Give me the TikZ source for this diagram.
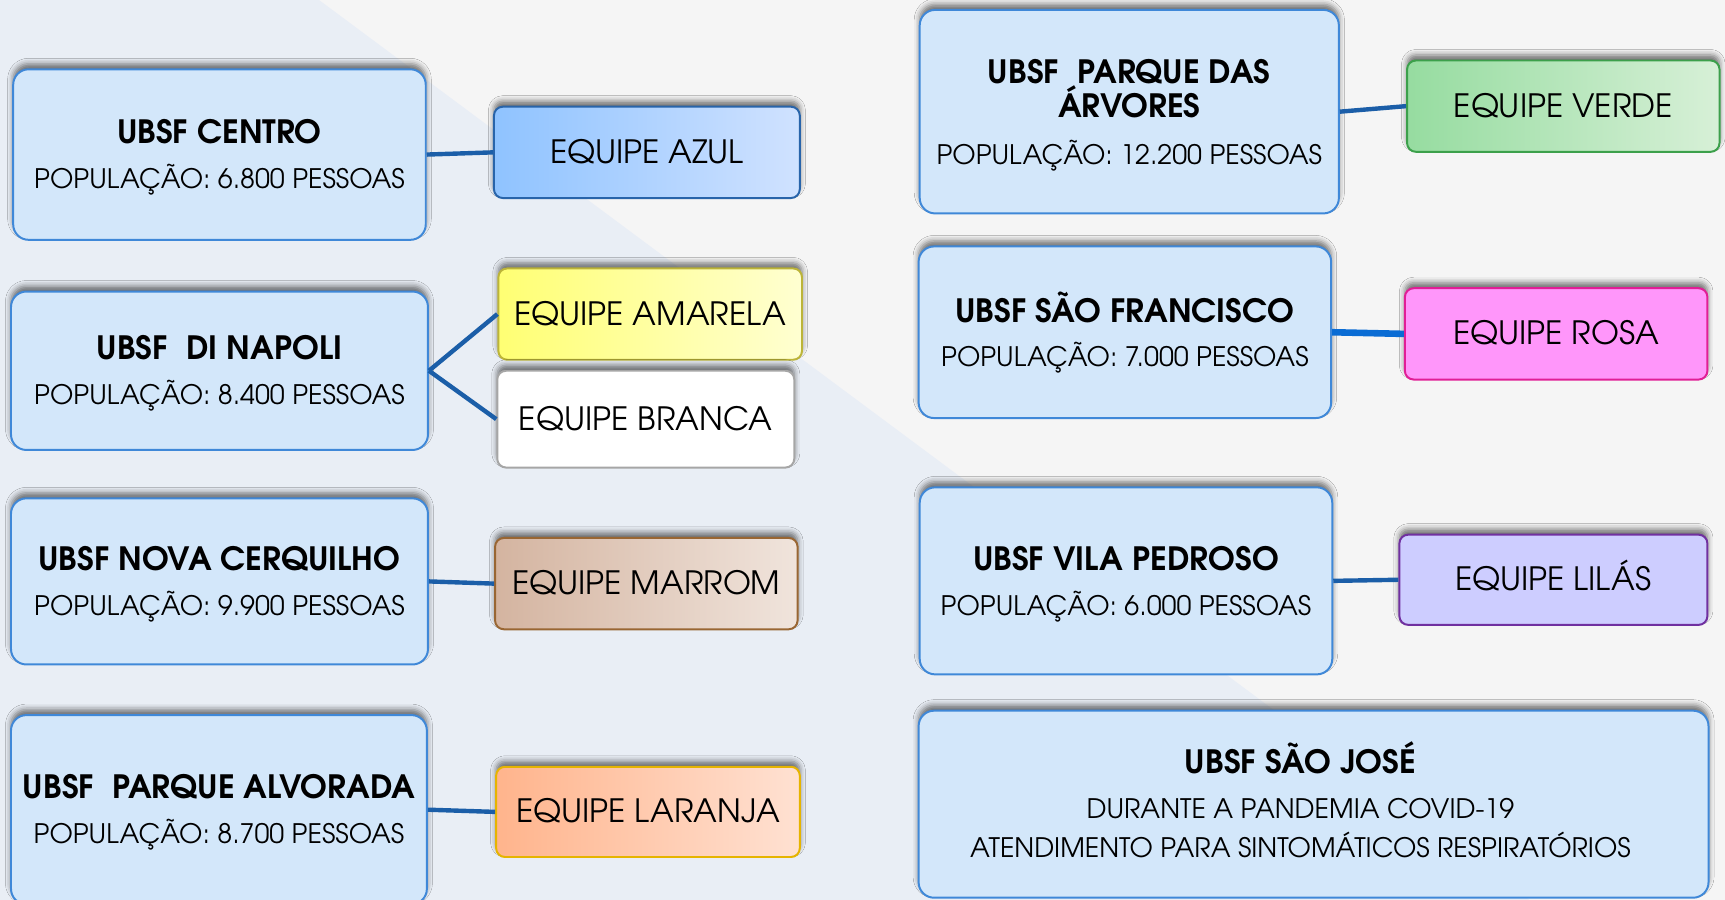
\documentclass[tikz,border=0pt]{standalone}
\usepackage{fontspec}
\setmainfont{TeX Gyre Adventor}
\usetikzlibrary{shadows.blur}
\definecolor{bgR}{HTML}{F5F5F5}
\definecolor{bgL}{HTML}{E9EEF5}
\definecolor{ubsfill}{HTML}{D3E7FA}
\definecolor{ubsline}{HTML}{3F88D8}
\definecolor{linkblue}{HTML}{1B5EA8}
\definecolor{rosalink}{HTML}{0A6CD4}
\begin{document}
\begin{tikzpicture}[x=0.5pt,y=-0.5pt,
  shad/.style={blur shadow={shadow xshift=0pt,shadow yshift=2.5pt,shadow blur radius=2.5pt,shadow opacity=55}},
  ubsf/.style={draw=ubsline,line width=0.9pt,fill=ubsfill,rounded corners=7pt,inner sep=0pt,shad},
  team/.style={rounded corners=4pt,line width=0.9pt,inner sep=0pt,shad,
    font=\fontsize{14.6}{16}\selectfont,text height=0.74em,text depth=0pt},
  teamtext/.style={inner sep=0pt,yshift=-1.3pt,font=\fontsize{14.6}{16}\selectfont,text height=0.74em,text depth=0pt},
  ttl/.style={font=\bfseries\fontsize{14.6}{16}\selectfont,inner sep=0pt,yshift=-1.3pt,text height=0.74em,text depth=0pt},
  pop/.style={font=\fontsize{12.2}{14}\selectfont,inner sep=0pt,yshift=-1.2pt,text height=0.74em,text depth=0pt},
  link/.style={draw=linkblue,line width=2pt}]
\useasboundingbox (0,0) rectangle (1568,818);
\clip (0,0) rectangle (1568,818);
\fill[bgR] (0,0) rectangle (1568,818);
\fill[bgL] (0,0) -- (290,0) -- (1390,818) -- (0,818) -- cycle;

% left column
\node[ubsf,minimum width=187.5pt,minimum height=77.5pt] (centro) at (199.5,140.5) {};
\node[ttl] (centroT) at (199.5,120) {UBSF CENTRO};
\node[pop] (centroP) at (199.5,162) {POPULAÇÃO: 6.800 PESSOAS};
\node[team,draw={rgb,255:red,40;green,100;blue,170},left color={rgb,255:red,143;green,195;blue,255},right color={rgb,255:red,208;green,226;blue,255},minimum width=139pt,minimum height=41.5pt] (azul) at (588,138.5) {};
\node[teamtext] (azulT) at (azul) {EQUIPE AZUL};

\node[ubsf,minimum width=189.5pt,minimum height=72pt] (napoli) at (199.5,337) {};
\node[ttl] (napoliT) at (199.5,317) {UBSF\ \ DI NAPOLI};
\node[pop] (napoliP) at (199.5,358) {POPULAÇÃO: 8.400 PESSOAS};
\node[team,draw=yellow!70!black,left color=yellow!55,right color=yellow!18,minimum width=138pt,minimum height=41.5pt] (amarela) at (591,285.5) {};
\node[teamtext] (amarelaT) at (amarela) {EQUIPE AMARELA};
\node[team,draw=gray!70,fill=white,minimum width=135pt,minimum height=44pt] (branca) at (587,381) {};
\node[teamtext] (brancaT) at (branca) {EQUIPE BRANCA};

\node[ubsf,minimum width=189.5pt,minimum height=75.5pt] (nova) at (199.5,528.5) {};
\node[ttl] (novaT) at (199.5,509) {UBSF NOVA CERQUILHO};
\node[pop] (novaP) at (199.5,550) {POPULAÇÃO: 9.900 PESSOAS};
\node[team,draw=brown!80!black,left color={rgb,255:red,212;green,180;blue,160},right color={rgb,255:red,240;green,228;blue,220},minimum width=137.5pt,minimum height=41.5pt] (marrom) at (587.5,530.5) {};
\node[teamtext] (marromT) at (marrom) {EQUIPE MARROM};

\node[ubsf,minimum width=189pt,minimum height=86pt] (alvorada) at (199,736) {};
\node[ttl] (alvoradaT) at (199,716) {UBSF\ \ PARQUE ALVORADA};
\node[pop] (alvoradaP) at (199,757) {POPULAÇÃO: 8.700 PESSOAS};
\node[team,draw={rgb,255:red,230;green,180;blue,0},left color={rgb,255:red,255;green,180;blue,140},right color={rgb,255:red,255;green,225;blue,210},minimum width=138pt,minimum height=41pt] (laranja) at (589,738) {};
\node[teamtext] (laranjaT) at (laranja) {EQUIPE LARANJA};

% right column
\node[ubsf,minimum width=190.5pt,minimum height=92.5pt] (arvores) at (1026.5,101.5) {};
\node[ttl] (arvoresT1) at (1026.5,66) {UBSF\ \ PARQUE DAS};
\node[ttl] (arvoresT2) at (1026.5,97) {ÁRVORES};
\node[pop] (arvoresP) at (1026.5,140) {POPULAÇÃO: 12.200 PESSOAS};
\node[team,draw={rgb,255:red,60;green,160;blue,75},left color={rgb,255:red,150;green,220;blue,160},right color={rgb,255:red,215;green,240;blue,215},minimum width=142pt,minimum height=41.5pt] (verde) at (1421,96.5) {};
\node[teamtext] (verdeT) at (verde) {EQUIPE VERDE};

\node[ubsf,minimum width=187.5pt,minimum height=78pt] (francisco) at (1022.5,302) {};
\node[ttl] (franciscoT) at (1022.5,283) {UBSF SÃO FRANCISCO};
\node[pop] (franciscoP) at (1022.5,323) {POPULAÇÃO: 7.000 PESSOAS};
\node[team,draw={rgb,255:red,225;green,30;blue,150},fill={rgb,255:red,255;green,150;blue,250},minimum width=137.5pt,minimum height=41.5pt] (rosa) at (1414.5,303.5) {};
\node[teamtext] (rosaT) at (rosa) {EQUIPE ROSA};

\node[ubsf,minimum width=187.5pt,minimum height=85pt] (vila) at (1023.5,528) {};
\node[ttl] (vilaT) at (1023.5,509) {UBSF VILA PEDROSO};
\node[pop] (vilaP) at (1023.5,550) {POPULAÇÃO: 6.000 PESSOAS};
\node[team,draw={rgb,255:red,112;green,48;blue,160},fill={rgb,255:red,205;green,205;blue,255},minimum width=140pt,minimum height=41pt] (lilas) at (1412,527) {};
\node[teamtext] (lilasT) at (lilas) {EQUIPE LILÁS};

\node[ubsf,minimum width=359pt,minimum height=85pt] (jose) at (1194,731) {};
\node[ttl] (joseT) at (1182,693) {UBSF SÃO JOSÉ};
\node[pop] (joseP1) at (1182,734) {DURANTE A PANDEMIA COVID-19};
\node[pop] (joseP2) at (1182,770) {ATENDIMENTO PARA SINTOMÁTICOS RESPIRATÓRIOS};

% connectors
\draw[link] (centro.east) -- (azul.west);
\draw[link] (napoli.east) -- (amarela.west);
\draw[link] (napoli.east) -- (branca.west);
\draw[link] (nova.east) -- (marrom.west);
\draw[link] (alvorada.east) -- (laranja.west);
\draw[link] (arvores.east) -- (verde.west);
\draw[draw=rosalink,line width=3pt] (francisco.east) -- (rosa.west);
\draw[link] (vila.east) -- (lilas.west);
\end{tikzpicture}
\end{document}
